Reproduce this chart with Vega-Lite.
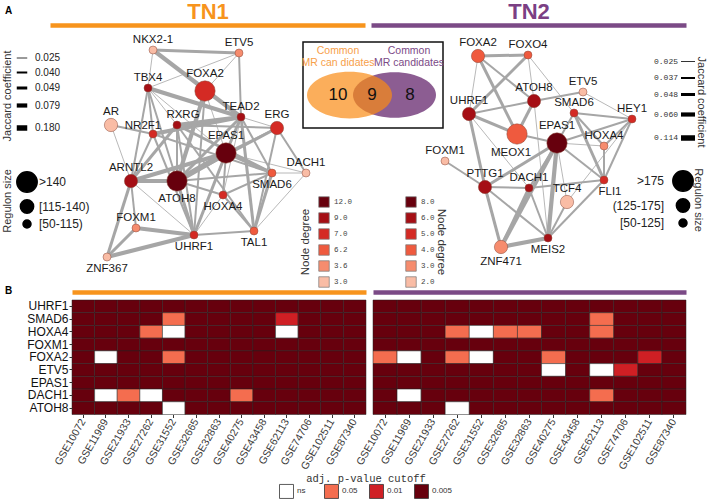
{
"$schema": "https://vega.github.io/schema/vega-lite/v6.json",
"width": 709, "height": 503,
"autosize": {"type": "none"},
"padding": 0,
"background": "white",
"config": {"view": {"stroke": null}, "font": "Liberation Sans", "legend": {"titleFont": "Liberation Sans", "labelFont": "Liberation Sans"}},
"datasets": {
"tn1nodes": [
{"id":"NKX2-1","x":103,"y":20,"reg":"[50-115)","deg":"3.0"},
{"id":"ETV5","x":189,"y":23,"reg":"[50-115)","deg":"3.6"},
{"id":"TBX4","x":98,"y":58,"reg":"[50-115)","deg":"9.0"},
{"id":"FOXA2","x":155,"y":61,"reg":">140","deg":"7.0"},
{"id":"AR","x":61,"y":95,"reg":"[115-140)","deg":"3.0"},
{"id":"NR2F1","x":103,"y":104,"reg":"[50-115)","deg":"7.0"},
{"id":"RXRG","x":127,"y":95,"reg":"[50-115)","deg":"9.0"},
{"id":"TEAD2","x":191,"y":87,"reg":"[50-115)","deg":"9.0"},
{"id":"ERG","x":227,"y":98,"reg":"[115-140)","deg":"7.0"},
{"id":"EPAS1","x":176,"y":123,"reg":">140","deg":"12.0"},
{"id":"DACH1","x":256,"y":143,"reg":"[50-115)","deg":"3.0"},
{"id":"ARNTL2","x":81,"y":151,"reg":"[115-140)","deg":"9.0"},
{"id":"ATOH8","x":127,"y":151,"reg":">140","deg":"12.0"},
{"id":"SMAD6","x":222,"y":143,"reg":"[50-115)","deg":"6.2"},
{"id":"HOXA4","x":173,"y":165,"reg":"[50-115)","deg":"7.0"},
{"id":"FOXM1","x":86,"y":198,"reg":"[50-115)","deg":"3.6"},
{"id":"UHRF1","x":144,"y":205,"reg":"[50-115)","deg":"7.0"},
{"id":"TAL1","x":204,"y":201,"reg":"[50-115)","deg":"6.2"},
{"id":"ZNF367","x":57,"y":227,"reg":"[50-115)","deg":"3.0"}
],
"tn1edges": [
{"s":"NKX2-1","t":"ETV5","j":"0.049"},
{"s":"NKX2-1","t":"TBX4","j":"0.025"},
{"s":"NKX2-1","t":"TEAD2","j":"0.079"},
{"s":"TBX4","t":"ETV5","j":"0.025"},
{"s":"FOXA2","t":"ETV5","j":"0.025"},
{"s":"ETV5","t":"TEAD2","j":"0.040"},
{"s":"TBX4","t":"TEAD2","j":"0.079"},
{"s":"TBX4","t":"NR2F1","j":"0.040"},
{"s":"TBX4","t":"ARNTL2","j":"0.040"},
{"s":"TBX4","t":"RXRG","j":"0.025"},
{"s":"TBX4","t":"EPAS1","j":"0.025"},
{"s":"TBX4","t":"ATOH8","j":"0.040"},
{"s":"AR","t":"NR2F1","j":"0.040"},
{"s":"AR","t":"ARNTL2","j":"0.025"},
{"s":"NR2F1","t":"TEAD2","j":"0.079"},
{"s":"NR2F1","t":"ARNTL2","j":"0.040"},
{"s":"NR2F1","t":"UHRF1","j":"0.040"},
{"s":"NR2F1","t":"SMAD6","j":"0.040"},
{"s":"RXRG","t":"TEAD2","j":"0.079"},
{"s":"RXRG","t":"ERG","j":"0.040"},
{"s":"RXRG","t":"ARNTL2","j":"0.049"},
{"s":"RXRG","t":"ATOH8","j":"0.040"},
{"s":"RXRG","t":"UHRF1","j":"0.040"},
{"s":"RXRG","t":"SMAD6","j":"0.049"},
{"s":"RXRG","t":"TAL1","j":"0.040"},
{"s":"FOXA2","t":"ATOH8","j":"0.079"},
{"s":"FOXA2","t":"EPAS1","j":"0.025"},
{"s":"FOXA2","t":"UHRF1","j":"0.040"},
{"s":"TEAD2","t":"ERG","j":"0.025"},
{"s":"TEAD2","t":"EPAS1","j":"0.049"},
{"s":"TEAD2","t":"HOXA4","j":"0.025"},
{"s":"TEAD2","t":"ATOH8","j":"0.049"},
{"s":"TEAD2","t":"TAL1","j":"0.049"},
{"s":"TEAD2","t":"SMAD6","j":"0.040"},
{"s":"ERG","t":"DACH1","j":"0.040"},
{"s":"ERG","t":"ATOH8","j":"0.049"},
{"s":"ERG","t":"EPAS1","j":"0.040"},
{"s":"ERG","t":"TAL1","j":"0.040"},
{"s":"EPAS1","t":"ARNTL2","j":"0.079"},
{"s":"EPAS1","t":"ATOH8","j":"0.180"},
{"s":"EPAS1","t":"SMAD6","j":"0.049"},
{"s":"EPAS1","t":"HOXA4","j":"0.040"},
{"s":"EPAS1","t":"UHRF1","j":"0.049"},
{"s":"EPAS1","t":"DACH1","j":"0.025"},
{"s":"ARNTL2","t":"ATOH8","j":"0.079"},
{"s":"ARNTL2","t":"FOXM1","j":"0.040"},
{"s":"ARNTL2","t":"ZNF367","j":"0.049"},
{"s":"ARNTL2","t":"UHRF1","j":"0.025"},
{"s":"ATOH8","t":"HOXA4","j":"0.040"},
{"s":"ATOH8","t":"SMAD6","j":"0.040"},
{"s":"ATOH8","t":"UHRF1","j":"0.049"},
{"s":"HOXA4","t":"SMAD6","j":"0.040"},
{"s":"HOXA4","t":"UHRF1","j":"0.025"},
{"s":"HOXA4","t":"TAL1","j":"0.040"},
{"s":"SMAD6","t":"TAL1","j":"0.049"},
{"s":"SMAD6","t":"DACH1","j":"0.025"},
{"s":"DACH1","t":"TAL1","j":"0.025"},
{"s":"FOXM1","t":"UHRF1","j":"0.079"},
{"s":"FOXM1","t":"ZNF367","j":"0.049"},
{"s":"ZNF367","t":"UHRF1","j":"0.079"},
{"s":"UHRF1","t":"TAL1","j":"0.040"}
],
"tn2nodes": [
{"id":"FOXA2","x":107,"y":26,"reg":"(125-175]","deg":"4.0"},
{"id":"FOXO4","x":157,"y":25,"reg":"[50-125]","deg":"4.0"},
{"id":"ATOH8","x":163,"y":71,"reg":"(125-175]","deg":"6.0"},
{"id":"ETV5","x":212,"y":62,"reg":"[50-125]","deg":"2.0"},
{"id":"SMAD6","x":203,"y":83,"reg":"[50-125]","deg":"5.0"},
{"id":"HEY1","x":261,"y":89,"reg":"[50-125]","deg":"5.0"},
{"id":"UHRF1","x":98,"y":84,"reg":"(125-175]","deg":"6.0"},
{"id":"MEOX1","x":146,"y":104,"reg":">175","deg":"4.0"},
{"id":"EPAS1","x":186,"y":113,"reg":">175","deg":"8.0"},
{"id":"HOXA4","x":233,"y":116,"reg":"[50-125]","deg":"3.0"},
{"id":"FOXM1","x":74,"y":131,"reg":"[50-125]","deg":"2.0"},
{"id":"PTTG1","x":114,"y":157,"reg":"(125-175]","deg":"6.0"},
{"id":"DACH1","x":158,"y":158,"reg":"[50-125]","deg":"6.0"},
{"id":"TCF4","x":196,"y":172,"reg":"(125-175]","deg":"2.0"},
{"id":"FLI1","x":233,"y":150,"reg":"[50-125]","deg":"5.0"},
{"id":"MEIS2","x":177,"y":208,"reg":"[50-125]","deg":"6.0"},
{"id":"ZNF471","x":130,"y":217,"reg":"(125-175]","deg":"3.0"}
],
"tn2edges": [
{"s":"FOXA2","t":"FOXO4","j":"0.048"},
{"s":"FOXA2","t":"UHRF1","j":"0.025"},
{"s":"FOXA2","t":"ATOH8","j":"0.037"},
{"s":"FOXA2","t":"MEOX1","j":"0.048"},
{"s":"FOXO4","t":"UHRF1","j":"0.048"},
{"s":"FOXO4","t":"ATOH8","j":"0.025"},
{"s":"FOXO4","t":"SMAD6","j":"0.025"},
{"s":"UHRF1","t":"ATOH8","j":"0.037"},
{"s":"UHRF1","t":"MEOX1","j":"0.048"},
{"s":"UHRF1","t":"PTTG1","j":"0.048"},
{"s":"UHRF1","t":"DACH1","j":"0.025"},
{"s":"ATOH8","t":"ETV5","j":"0.037"},
{"s":"ATOH8","t":"MEOX1","j":"0.048"},
{"s":"ATOH8","t":"MEIS2","j":"0.025"},
{"s":"ETV5","t":"HEY1","j":"0.025"},
{"s":"SMAD6","t":"HEY1","j":"0.037"},
{"s":"SMAD6","t":"EPAS1","j":"0.037"},
{"s":"SMAD6","t":"HOXA4","j":"0.037"},
{"s":"SMAD6","t":"FLI1","j":"0.048"},
{"s":"HEY1","t":"EPAS1","j":"0.037"},
{"s":"HEY1","t":"HOXA4","j":"0.037"},
{"s":"HEY1","t":"FLI1","j":"0.037"},
{"s":"HEY1","t":"TCF4","j":"0.025"},
{"s":"MEOX1","t":"EPAS1","j":"0.037"},
{"s":"EPAS1","t":"PTTG1","j":"0.048"},
{"s":"EPAS1","t":"DACH1","j":"0.037"},
{"s":"EPAS1","t":"ZNF471","j":"0.060"},
{"s":"EPAS1","t":"MEIS2","j":"0.060"},
{"s":"EPAS1","t":"FLI1","j":"0.037"},
{"s":"EPAS1","t":"HOXA4","j":"0.025"},
{"s":"EPAS1","t":"TCF4","j":"0.025"},
{"s":"FOXM1","t":"PTTG1","j":"0.037"},
{"s":"PTTG1","t":"DACH1","j":"0.037"},
{"s":"PTTG1","t":"ZNF471","j":"0.048"},
{"s":"PTTG1","t":"MEIS2","j":"0.037"},
{"s":"DACH1","t":"ZNF471","j":"0.048"},
{"s":"DACH1","t":"MEIS2","j":"0.037"},
{"s":"DACH1","t":"FLI1","j":"0.037"},
{"s":"TCF4","t":"MEIS2","j":"0.037"},
{"s":"FLI1","t":"MEIS2","j":"0.037"},
{"s":"ZNF471","t":"MEIS2","j":"0.060"},
{"s":"HOXA4","t":"FLI1","j":"0.037"}
],
"venn": [
{"part":"TN1 only","n":"10"},
{"part":"both","n":"9"},
{"part":"TN2 only","n":"8"}
],
"heat": [
{"tn":"TN1","gene":"UHRF1","GSE10072":"0.005","GSE11969":"0.005","GSE21933":"0.005","GSE27262":"0.005","GSE31552":"0.005","GSE32665":"0.005","GSE32863":"0.005","GSE40275":"0.005","GSE43458":"0.005","GSE62113":"0.005","GSE74706":"0.005","GSE102511":"0.005","GSE87340":"0.005"},
{"tn":"TN1","gene":"SMAD6","GSE10072":"0.005","GSE11969":"0.005","GSE21933":"0.005","GSE27262":"0.005","GSE31552":"0.05","GSE32665":"0.005","GSE32863":"0.005","GSE40275":"0.005","GSE43458":"0.005","GSE62113":"0.01","GSE74706":"0.005","GSE102511":"0.005","GSE87340":"0.005"},
{"tn":"TN1","gene":"HOXA4","GSE10072":"0.005","GSE11969":"0.005","GSE21933":"0.005","GSE27262":"0.05","GSE31552":"ns","GSE32665":"0.005","GSE32863":"0.005","GSE40275":"0.005","GSE43458":"0.005","GSE62113":"ns","GSE74706":"0.005","GSE102511":"0.005","GSE87340":"0.005"},
{"tn":"TN1","gene":"FOXM1","GSE10072":"0.005","GSE11969":"0.005","GSE21933":"0.005","GSE27262":"0.005","GSE31552":"0.005","GSE32665":"0.005","GSE32863":"0.005","GSE40275":"0.005","GSE43458":"0.005","GSE62113":"0.005","GSE74706":"0.005","GSE102511":"0.005","GSE87340":"0.005"},
{"tn":"TN1","gene":"FOXA2","GSE10072":"0.005","GSE11969":"ns","GSE21933":"0.005","GSE27262":"0.005","GSE31552":"0.05","GSE32665":"0.005","GSE32863":"0.005","GSE40275":"0.005","GSE43458":"0.005","GSE62113":"0.005","GSE74706":"0.005","GSE102511":"0.005","GSE87340":"0.005"},
{"tn":"TN1","gene":"ETV5","GSE10072":"0.005","GSE11969":"0.005","GSE21933":"0.005","GSE27262":"0.005","GSE31552":"0.005","GSE32665":"0.005","GSE32863":"0.005","GSE40275":"0.005","GSE43458":"0.005","GSE62113":"0.005","GSE74706":"0.005","GSE102511":"0.005","GSE87340":"0.005"},
{"tn":"TN1","gene":"EPAS1","GSE10072":"0.005","GSE11969":"0.005","GSE21933":"0.005","GSE27262":"0.005","GSE31552":"0.005","GSE32665":"0.005","GSE32863":"0.005","GSE40275":"0.005","GSE43458":"0.005","GSE62113":"0.005","GSE74706":"0.005","GSE102511":"0.005","GSE87340":"0.005"},
{"tn":"TN1","gene":"DACH1","GSE10072":"0.005","GSE11969":"ns","GSE21933":"0.05","GSE27262":"ns","GSE31552":"0.005","GSE32665":"0.005","GSE32863":"0.005","GSE40275":"0.05","GSE43458":"0.005","GSE62113":"0.005","GSE74706":"0.005","GSE102511":"0.005","GSE87340":"0.005"},
{"tn":"TN1","gene":"ATOH8","GSE10072":"0.005","GSE11969":"0.005","GSE21933":"0.005","GSE27262":"0.005","GSE31552":"ns","GSE32665":"0.005","GSE32863":"0.005","GSE40275":"0.005","GSE43458":"0.005","GSE62113":"0.005","GSE74706":"0.005","GSE102511":"0.005","GSE87340":"0.005"},
{"tn":"TN2","gene":"UHRF1","GSE10072":"0.005","GSE11969":"0.005","GSE21933":"0.005","GSE27262":"0.005","GSE31552":"0.005","GSE32665":"0.005","GSE32863":"0.005","GSE40275":"0.005","GSE43458":"0.005","GSE62113":"0.005","GSE74706":"0.005","GSE102511":"0.005","GSE87340":"0.005"},
{"tn":"TN2","gene":"SMAD6","GSE10072":"0.005","GSE11969":"0.005","GSE21933":"0.005","GSE27262":"0.005","GSE31552":"0.005","GSE32665":"0.005","GSE32863":"0.005","GSE40275":"0.005","GSE43458":"0.005","GSE62113":"0.05","GSE74706":"0.005","GSE102511":"0.005","GSE87340":"0.005"},
{"tn":"TN2","gene":"HOXA4","GSE10072":"0.005","GSE11969":"0.005","GSE21933":"0.005","GSE27262":"0.05","GSE31552":"ns","GSE32665":"0.05","GSE32863":"0.05","GSE40275":"0.005","GSE43458":"0.005","GSE62113":"0.05","GSE74706":"0.005","GSE102511":"0.005","GSE87340":"0.005"},
{"tn":"TN2","gene":"FOXM1","GSE10072":"0.005","GSE11969":"0.005","GSE21933":"0.005","GSE27262":"0.005","GSE31552":"0.005","GSE32665":"0.005","GSE32863":"0.005","GSE40275":"0.005","GSE43458":"0.005","GSE62113":"0.005","GSE74706":"0.005","GSE102511":"0.005","GSE87340":"0.005"},
{"tn":"TN2","gene":"FOXA2","GSE10072":"0.05","GSE11969":"ns","GSE21933":"0.005","GSE27262":"0.05","GSE31552":"ns","GSE32665":"0.005","GSE32863":"0.005","GSE40275":"0.05","GSE43458":"0.005","GSE62113":"0.005","GSE74706":"0.005","GSE102511":"0.01","GSE87340":"0.005"},
{"tn":"TN2","gene":"ETV5","GSE10072":"0.005","GSE11969":"0.005","GSE21933":"0.005","GSE27262":"0.005","GSE31552":"0.005","GSE32665":"0.005","GSE32863":"0.005","GSE40275":"ns","GSE43458":"0.005","GSE62113":"ns","GSE74706":"0.01","GSE102511":"0.005","GSE87340":"0.005"},
{"tn":"TN2","gene":"EPAS1","GSE10072":"0.005","GSE11969":"0.005","GSE21933":"0.005","GSE27262":"0.005","GSE31552":"0.005","GSE32665":"0.005","GSE32863":"0.005","GSE40275":"0.005","GSE43458":"0.005","GSE62113":"0.005","GSE74706":"0.005","GSE102511":"0.005","GSE87340":"0.005"},
{"tn":"TN2","gene":"DACH1","GSE10072":"0.005","GSE11969":"ns","GSE21933":"0.005","GSE27262":"0.005","GSE31552":"0.005","GSE32665":"0.005","GSE32863":"0.005","GSE40275":"0.005","GSE43458":"0.005","GSE62113":"0.05","GSE74706":"0.005","GSE102511":"0.005","GSE87340":"0.005"},
{"tn":"TN2","gene":"ATOH8","GSE10072":"0.005","GSE11969":"0.005","GSE21933":"0.005","GSE27262":"ns","GSE31552":"0.005","GSE32665":"0.005","GSE32863":"0.005","GSE40275":"0.005","GSE43458":"0.005","GSE62113":"0.005","GSE74706":"0.005","GSE102511":"0.005","GSE87340":"0.005"}
]
},
"layer": [
{
"layer": [
{"data": {"name": "tn1edges"},
 "transform": [
  {"lookup": "s", "from": {"data": {"values": [
{"id":"NKX2-1","x":103,"y":20},{"id":"ETV5","x":189,"y":23},{"id":"TBX4","x":98,"y":58},{"id":"FOXA2","x":155,"y":61},{"id":"AR","x":61,"y":95},{"id":"NR2F1","x":103,"y":104},{"id":"RXRG","x":127,"y":95},{"id":"TEAD2","x":191,"y":87},{"id":"ERG","x":227,"y":98},{"id":"EPAS1","x":176,"y":123},{"id":"DACH1","x":256,"y":143},{"id":"ARNTL2","x":81,"y":151},{"id":"ATOH8","x":127,"y":151},{"id":"SMAD6","x":222,"y":143},{"id":"HOXA4","x":173,"y":165},{"id":"FOXM1","x":86,"y":198},{"id":"UHRF1","x":144,"y":205},{"id":"TAL1","x":204,"y":201},{"id":"ZNF367","x":57,"y":227}
  ]}, "key": "id", "fields": ["x", "y"]}, "as": ["sx", "sy"]},
  {"lookup": "t", "from": {"data": {"values": [
{"id":"NKX2-1","x":103,"y":20},{"id":"ETV5","x":189,"y":23},{"id":"TBX4","x":98,"y":58},{"id":"FOXA2","x":155,"y":61},{"id":"AR","x":61,"y":95},{"id":"NR2F1","x":103,"y":104},{"id":"RXRG","x":127,"y":95},{"id":"TEAD2","x":191,"y":87},{"id":"ERG","x":227,"y":98},{"id":"EPAS1","x":176,"y":123},{"id":"DACH1","x":256,"y":143},{"id":"ARNTL2","x":81,"y":151},{"id":"ATOH8","x":127,"y":151},{"id":"SMAD6","x":222,"y":143},{"id":"HOXA4","x":173,"y":165},{"id":"FOXM1","x":86,"y":198},{"id":"UHRF1","x":144,"y":205},{"id":"TAL1","x":204,"y":201},{"id":"ZNF367","x":57,"y":227}
  ]}, "key": "id", "fields": ["x", "y"]}, "as": ["tx", "ty"]}
 ],
 "mark": {"type": "rule", "color": "#a6a6a6"},
 "encoding": {
  "x": {"field": "sx", "type": "quantitative", "scale": {"domain": [0, 315], "range": [50, 365], "nice": false, "zero": false},
        "axis": {"orient": "top", "offset": -25, "domain": true, "domainColor": "#f7941d", "domainWidth": 4.5, "ticks": false, "labels": false, "grid": false, "title": "TN1", "titleFontSize": 22, "titleFontWeight": "bold", "titleColor": "#f7941d", "titlePadding": 2}},
  "y": {"field": "sy", "type": "quantitative", "scale": {"domain": [0, 250], "range": [30, 280], "nice": false, "zero": false},
        "axis": {"orient": "left", "domain": false, "ticks": false, "labels": false, "grid": false, "title": "A", "titleAngle": 0, "titleX": 8, "titleY": 10, "titleAlign": "center", "titleBaseline": "middle", "titleFontSize": 10, "titleFontWeight": "bold", "titleColor": "#000"}},
  "x2": {"field": "tx"},
  "y2": {"field": "ty"},
  "strokeWidth": {"field": "j", "type": "ordinal", "scale": {"type": "ordinal", "domain": ["0.025", "0.040", "0.049", "0.079", "0.180"], "range": [0.8, 2, 3, 4.2, 5.5]},
    "legend": {"orient": "none", "legendX": 2, "legendY": 52, "title": "Jaccard coefficient", "titleOrient": "left", "titleFontSize": 11, "titleFontWeight": "normal", "titleColor": "#333", "titleAnchor": "middle", "titleAlign": "center", "titleBaseline": "middle", "titlePadding": -6, "symbolType": "stroke", "symbolSize": 110, "symbolStrokeColor": "#000", "labelFontSize": 10, "labelColor": "#222", "labelOffset": 5, "rowPadding": 3,
      "encode": {"title": {"update": {"angle": {"value": 270}}}}}}
 }},
{"data": {"name": "tn1nodes"},
 "mark": {"type": "circle", "opacity": 1, "stroke": "#8b4a3c", "strokeWidth": 0.5},
 "encoding": {
  "x": {"field": "x", "type": "quantitative"},
  "y": {"field": "y", "type": "quantitative"},
  "size": {"field": "reg", "type": "ordinal", "scale": {"type": "ordinal", "domain": [">140", "[115-140)", "[50-115)"], "range": [415, 177, 64]},
    "legend": {"orient": "none", "legendX": 2, "legendY": 171, "title": "Regulon size", "titleOrient": "left", "titleFontSize": 11, "titleFontWeight": "normal", "titleColor": "#333", "titleAnchor": "middle", "titleAlign": "center", "titleBaseline": "middle", "titlePadding": -4, "symbolType": "circle", "symbolFillColor": "#000", "symbolStrokeColor": "#000", "symbolOpacity": 1, "labelFontSize": 12, "labelColor": "#222", "labelOffset": 1, "rowPadding": 0,
      "encode": {"title": {"update": {"angle": {"value": 270}}}}}},
  "color": {"field": "deg", "type": "ordinal", "scale": {"domain": ["12.0", "9.0", "7.0", "6.2", "3.6", "3.0"], "range": ["#67000d", "#a50f15", "#d42a24", "#ef5a3e", "#f68c6e", "#f9bca5"]},
    "legend": {"orient": "none", "legendX": 300, "legendY": 196, "title": "Node degree", "titleOrient": "left", "titleFontSize": 11.5, "titleFontWeight": "normal", "titleColor": "#333", "titleAnchor": "middle", "titleAlign": "center", "titleBaseline": "middle", "titlePadding": 0, "symbolType": "square", "symbolSize": 110, "symbolStrokeColor": "#777", "symbolStrokeWidth": 0.7, "symbolOpacity": 1, "labelFont": "Liberation Mono", "labelFontSize": 7.5, "labelColor": "#444", "labelOffset": 4, "rowPadding": 2,
      "encode": {"title": {"update": {"angle": {"value": 270}}}}}}
 }},
{"data": {"name": "tn1nodes"},
 "transform": [{"filter": {"field": "id", "oneOf": ["NKX2-1", "ETV5", "TBX4", "TEAD2", "DACH1", "FOXM1"]}}],
 "mark": {"type": "text", "baseline": "bottom", "dy": -5, "fontSize": 11.5, "color": "#1a1a1a"},
 "encoding": {"x": {"field": "x", "type": "quantitative"}, "y": {"field": "y", "type": "quantitative"}, "text": {"field": "id"}}},
{"data": {"name": "tn1nodes"},
 "transform": [{"filter": {"field": "id", "oneOf": ["RXRG"]}}],
 "mark": {"type": "text", "baseline": "bottom", "dy": -5, "dx": 6, "fontSize": 11.5, "color": "#1a1a1a"},
 "encoding": {"x": {"field": "x", "type": "quantitative"}, "y": {"field": "y", "type": "quantitative"}, "text": {"field": "id"}}},
{"data": {"name": "tn1nodes"},
 "transform": [{"filter": {"field": "id", "oneOf": ["NR2F1"]}}],
 "mark": {"type": "text", "baseline": "bottom", "dy": -3, "dx": -10, "fontSize": 11.5, "color": "#1a1a1a"},
 "encoding": {"x": {"field": "x", "type": "quantitative"}, "y": {"field": "y", "type": "quantitative"}, "text": {"field": "id"}}},
{"data": {"name": "tn1nodes"},
 "transform": [{"filter": {"field": "id", "oneOf": ["AR", "ERG", "ARNTL2"]}}],
 "mark": {"type": "text", "baseline": "bottom", "dy": -8.5, "fontSize": 11.5, "color": "#1a1a1a"},
 "encoding": {"x": {"field": "x", "type": "quantitative"}, "y": {"field": "y", "type": "quantitative"}, "text": {"field": "id"}}},
{"data": {"name": "tn1nodes"},
 "transform": [{"filter": {"field": "id", "oneOf": ["FOXA2", "EPAS1"]}}],
 "mark": {"type": "text", "baseline": "bottom", "dy": -12, "fontSize": 11.5, "color": "#1a1a1a"},
 "encoding": {"x": {"field": "x", "type": "quantitative"}, "y": {"field": "y", "type": "quantitative"}, "text": {"field": "id"}}},
{"data": {"name": "tn1nodes"},
 "transform": [{"filter": {"field": "id", "oneOf": ["SMAD6", "HOXA4", "UHRF1", "TAL1", "ZNF367"]}}],
 "mark": {"type": "text", "baseline": "top", "dy": 5.5, "fontSize": 11.5, "color": "#1a1a1a"},
 "encoding": {"x": {"field": "x", "type": "quantitative"}, "y": {"field": "y", "type": "quantitative"}, "text": {"field": "id"}}},
{"data": {"name": "tn1nodes"},
 "transform": [{"filter": {"field": "id", "oneOf": ["ATOH8"]}}],
 "mark": {"type": "text", "baseline": "top", "dy": 12, "fontSize": 11.5, "color": "#1a1a1a"},
 "encoding": {"x": {"field": "x", "type": "quantitative"}, "y": {"field": "y", "type": "quantitative"}, "text": {"field": "id"}}}
]
},
{
"layer": [
{"data": {"name": "tn2edges"},
 "transform": [
  {"lookup": "s", "from": {"data": {"values": [
{"id":"FOXA2","x":107,"y":26},{"id":"FOXO4","x":157,"y":25},{"id":"ATOH8","x":163,"y":71},{"id":"ETV5","x":212,"y":62},{"id":"SMAD6","x":203,"y":83},{"id":"HEY1","x":261,"y":89},{"id":"UHRF1","x":98,"y":84},{"id":"MEOX1","x":146,"y":104},{"id":"EPAS1","x":186,"y":113},{"id":"HOXA4","x":233,"y":116},{"id":"FOXM1","x":74,"y":131},{"id":"PTTG1","x":114,"y":157},{"id":"DACH1","x":158,"y":158},{"id":"TCF4","x":196,"y":172},{"id":"FLI1","x":233,"y":150},{"id":"MEIS2","x":177,"y":208},{"id":"ZNF471","x":130,"y":217}
  ]}, "key": "id", "fields": ["x", "y"]}, "as": ["sx", "sy"]},
  {"lookup": "t", "from": {"data": {"values": [
{"id":"FOXA2","x":107,"y":26},{"id":"FOXO4","x":157,"y":25},{"id":"ATOH8","x":163,"y":71},{"id":"ETV5","x":212,"y":62},{"id":"SMAD6","x":203,"y":83},{"id":"HEY1","x":261,"y":89},{"id":"UHRF1","x":98,"y":84},{"id":"MEOX1","x":146,"y":104},{"id":"EPAS1","x":186,"y":113},{"id":"HOXA4","x":233,"y":116},{"id":"FOXM1","x":74,"y":131},{"id":"PTTG1","x":114,"y":157},{"id":"DACH1","x":158,"y":158},{"id":"TCF4","x":196,"y":172},{"id":"FLI1","x":233,"y":150},{"id":"MEIS2","x":177,"y":208},{"id":"ZNF471","x":130,"y":217}
  ]}, "key": "id", "fields": ["x", "y"]}, "as": ["tx", "ty"]}
 ],
 "mark": {"type": "rule", "color": "#a6a6a6"},
 "encoding": {
  "x": {"field": "sx", "type": "quantitative", "scale": {"domain": [0, 315], "range": [371, 686], "nice": false, "zero": false},
        "axis": {"orient": "top", "offset": -25, "domain": true, "domainColor": "#7b4a86", "domainWidth": 4.5, "ticks": false, "labels": false, "grid": false, "title": "TN2", "titleFontSize": 22, "titleFontWeight": "bold", "titleColor": "#7b3f84", "titlePadding": 2}},
  "y": {"field": "sy", "type": "quantitative", "scale": {"domain": [0, 250], "range": [30, 280], "nice": false, "zero": false}, "axis": null},
  "x2": {"field": "tx"},
  "y2": {"field": "ty"},
  "strokeWidth": {"field": "j", "type": "ordinal", "scale": {"type": "ordinal", "domain": ["0.025", "0.037", "0.048", "0.060", "0.114"], "range": [0.8, 2, 3, 4.2, 5.5]},
    "legend": {"orient": "none", "legendX": 678, "legendY": 54, "title": "Jaccard coefficient", "titleOrient": "right", "titleFontSize": 11, "titleFontWeight": "normal", "titleColor": "#333", "titleAnchor": "middle", "titleAlign": "center", "titleBaseline": "middle", "titlePadding": -5, "symbolType": "stroke", "symbolSize": 196, "symbolStrokeColor": "#000", "labelFont": "Liberation Mono", "labelFontSize": 8, "labelColor": "#333", "labelAlign": "right", "labelOffset": -20, "rowPadding": 4,
      "encode": {"title": {"update": {"angle": {"value": 90}}}}}}
 }},
{"data": {"name": "tn2nodes"},
 "mark": {"type": "circle", "opacity": 1, "stroke": "#8b4a3c", "strokeWidth": 0.5},
 "encoding": {
  "x": {"field": "x", "type": "quantitative"},
  "y": {"field": "y", "type": "quantitative", "axis": null},
  "size": {"field": "reg", "type": "ordinal", "scale": {"type": "ordinal", "domain": [">175", "(125-175]", "[50-125]"], "range": [415, 177, 64]},
    "legend": {"orient": "none", "legendX": 672, "legendY": 170, "title": "Regulon size", "titleOrient": "right", "titleFontSize": 11, "titleFontWeight": "normal", "titleColor": "#333", "titleAnchor": "middle", "titleAlign": "center", "titleBaseline": "middle", "titlePadding": 2, "symbolType": "circle", "symbolFillColor": "#000", "symbolStrokeColor": "#000", "symbolOpacity": 1, "labelFontSize": 12, "labelColor": "#222", "labelAlign": "right", "labelOffset": -30, "rowPadding": 0,
      "encode": {"title": {"update": {"angle": {"value": 90}}}}}},
  "color": {"field": "deg", "type": "ordinal", "scale": {"domain": ["8.0", "6.0", "5.0", "4.0", "3.0", "2.0"], "range": ["#67000d", "#a50f15", "#d42a24", "#ef5a3e", "#f68c6e", "#f9bca5"]},
    "legend": {"orient": "none", "legendX": 405, "legendY": 196, "title": "Node degree", "titleOrient": "right", "titleFontSize": 11.5, "titleFontWeight": "normal", "titleColor": "#333", "titleAnchor": "middle", "titleAlign": "center", "titleBaseline": "middle", "titlePadding": 6, "symbolType": "square", "symbolSize": 110, "symbolStrokeColor": "#777", "symbolStrokeWidth": 0.7, "symbolOpacity": 1, "labelFont": "Liberation Mono", "labelFontSize": 7.5, "labelColor": "#444", "labelOffset": 4, "rowPadding": 2,
      "encode": {"title": {"update": {"angle": {"value": 90}}}}}}
 }},
{"data": {"name": "tn2nodes"},
 "transform": [{"filter": {"field": "id", "oneOf": ["FOXO4", "ETV5", "SMAD6", "HEY1", "HOXA4", "FOXM1", "DACH1"]}}],
 "mark": {"type": "text", "baseline": "bottom", "dy": -5, "fontSize": 11.5, "color": "#1a1a1a"},
 "encoding": {"x": {"field": "x", "type": "quantitative"}, "y": {"field": "y", "type": "quantitative", "axis": null}, "text": {"field": "id"}}},
{"data": {"name": "tn2nodes"},
 "transform": [{"filter": {"field": "id", "oneOf": ["FOXA2", "ATOH8", "UHRF1", "PTTG1", "TCF4"]}}],
 "mark": {"type": "text", "baseline": "bottom", "dy": -8.5, "fontSize": 11.5, "color": "#1a1a1a"},
 "encoding": {"x": {"field": "x", "type": "quantitative"}, "y": {"field": "y", "type": "quantitative", "axis": null}, "text": {"field": "id"}}},
{"data": {"name": "tn2nodes"},
 "transform": [{"filter": {"field": "id", "oneOf": ["EPAS1"]}}],
 "mark": {"type": "text", "baseline": "bottom", "dy": -12, "fontSize": 11.5, "color": "#1a1a1a"},
 "encoding": {"x": {"field": "x", "type": "quantitative"}, "y": {"field": "y", "type": "quantitative", "axis": null}, "text": {"field": "id"}}},
{"data": {"name": "tn2nodes"},
 "transform": [{"filter": {"field": "id", "oneOf": ["FLI1"]}}],
 "mark": {"type": "text", "baseline": "top", "dy": 6, "dx": 6, "fontSize": 11.5, "color": "#1a1a1a"},
 "encoding": {"x": {"field": "x", "type": "quantitative"}, "y": {"field": "y", "type": "quantitative", "axis": null}, "text": {"field": "id"}}},
{"data": {"name": "tn2nodes"},
 "transform": [{"filter": {"field": "id", "oneOf": ["MEIS2"]}}],
 "mark": {"type": "text", "baseline": "top", "dy": 5.5, "fontSize": 11.5, "color": "#1a1a1a"},
 "encoding": {"x": {"field": "x", "type": "quantitative"}, "y": {"field": "y", "type": "quantitative", "axis": null}, "text": {"field": "id"}}},
{"data": {"name": "tn2nodes"},
 "transform": [{"filter": {"field": "id", "oneOf": ["ZNF471"]}}],
 "mark": {"type": "text", "baseline": "top", "dy": 9, "fontSize": 11.5, "color": "#1a1a1a"},
 "encoding": {"x": {"field": "x", "type": "quantitative"}, "y": {"field": "y", "type": "quantitative", "axis": null}, "text": {"field": "id"}}},
{"data": {"name": "tn2nodes"},
 "transform": [{"filter": {"field": "id", "oneOf": ["MEOX1"]}}],
 "mark": {"type": "text", "baseline": "top", "dy": 13, "dx": -6, "fontSize": 11.5, "color": "#1a1a1a"},
 "encoding": {"x": {"field": "x", "type": "quantitative"}, "y": {"field": "y", "type": "quantitative", "axis": null}, "text": {"field": "id"}}}
]
},
{
"layer": [
{"data": {"values": [{}]},
 "mark": {"type": "rect", "filled": false, "stroke": "#111", "strokeWidth": 1.5},
 "encoding": {
  "x": {"datum": 0, "type": "quantitative", "scale": {"domain": [0, 140], "range": [303, 443], "nice": false, "zero": false}, "axis": null},
  "x2": {"datum": 140},
  "y": {"datum": 0, "type": "quantitative", "scale": {"domain": [0, 86], "range": [42, 128], "nice": false, "zero": false}, "axis": null},
  "y2": {"datum": 86}
 }},
{"data": {"values": [{}]},
 "mark": {"type": "point", "filled": true, "shape": "M-1,0C-1,-0.3038,-0.5523,-0.55,0,-0.55C0.5523,-0.55,1,-0.3038,1,0C1,0.3038,0.5523,0.55,0,0.55C-0.5523,0.55,-1,0.3038,-1,0Z", "size": 6889, "color": "#8c5d92", "opacity": 1, "strokeWidth": 0},
 "encoding": {"x": {"datum": 91.5, "type": "quantitative", "axis": null}, "y": {"datum": 53, "type": "quantitative", "axis": null}}},
{"data": {"values": [{}]},
 "mark": {"type": "point", "filled": true, "shape": "M-1,0C-1,-0.3038,-0.5523,-0.55,0,-0.55C0.5523,-0.55,1,-0.3038,1,0C1,0.3038,0.5523,0.55,0,0.55C-0.5523,0.55,-1,0.3038,-1,0Z", "size": 7225, "color": "#f98b16", "opacity": 0.7, "strokeWidth": 0},
 "encoding": {"x": {"datum": 46.5, "type": "quantitative", "axis": null}, "y": {"datum": 53, "type": "quantitative", "axis": null}}},
{"data": {"values": [{}]},
 "mark": {"type": "text", "text": ["Common", "MR can didates"], "fontSize": 10.5, "color": "#f7a04a", "lineHeight": 12, "baseline": "middle"},
 "encoding": {"x": {"datum": 35, "type": "quantitative", "axis": null}, "y": {"datum": 9, "type": "quantitative", "axis": null}}},
{"data": {"values": [{}]},
 "mark": {"type": "text", "text": ["Common", "MR candidates"], "fontSize": 10.5, "color": "#7b4a86", "lineHeight": 12, "baseline": "middle"},
 "encoding": {"x": {"datum": 106, "type": "quantitative", "axis": null}, "y": {"datum": 9, "type": "quantitative", "axis": null}}},
{"data": {"name": "venn"},
 "transform": [{"filter": "datum.part === 'TN1 only'"}],
 "mark": {"type": "text", "fontSize": 17, "color": "#111", "baseline": "middle"},
 "encoding": {"x": {"datum": 35, "type": "quantitative", "axis": null}, "y": {"datum": 53, "type": "quantitative", "axis": null}, "text": {"field": "n"}}},
{"data": {"name": "venn"},
 "transform": [{"filter": "datum.part === 'both'"}],
 "mark": {"type": "text", "fontSize": 17, "color": "#111", "baseline": "middle"},
 "encoding": {"x": {"datum": 69, "type": "quantitative", "axis": null}, "y": {"datum": 53, "type": "quantitative", "axis": null}, "text": {"field": "n"}}},
{"data": {"name": "venn"},
 "transform": [{"filter": "datum.part === 'TN2 only'"}],
 "mark": {"type": "text", "fontSize": 17, "color": "#111", "baseline": "middle"},
 "encoding": {"x": {"datum": 107, "type": "quantitative", "axis": null}, "y": {"datum": 53, "type": "quantitative", "axis": null}, "text": {"field": "n"}}}
]
},
{
"data": {"name": "heat"},
"transform": [
 {"filter": "datum.tn === 'TN1'"},
 {"fold": ["GSE10072","GSE11969","GSE21933","GSE27262","GSE31552","GSE32665","GSE32863","GSE40275","GSE43458","GSE62113","GSE74706","GSE102511","GSE87340"], "as": ["gse", "p"]}
],
"layer": [
 {"mark": {"type": "rect", "stroke": "#222", "strokeWidth": 0.5},
  "encoding": {
   "x": {"field": "gse", "type": "nominal", "scale": {"domain": ["GSE10072","GSE11969","GSE21933","GSE27262","GSE31552","GSE32665","GSE32863","GSE40275","GSE43458","GSE62113","GSE74706","GSE102511","GSE87340"], "range": [72, 366], "paddingInner": 0, "paddingOuter": 0},
         "axis": {"orient": "bottom", "offset": -88.5, "title": null, "domain": false, "tickSize": 3, "tickColor": "#333", "labelAngle": -60, "labelFontSize": 10.5, "labelColor": "#3a3a3a", "labelPadding": 2}},
   "y": {"field": "gene", "type": "nominal", "scale": {"domain": ["UHRF1","SMAD6","HOXA4","FOXM1","FOXA2","ETV5","EPAS1","DACH1","ATOH8"], "range": [300, 414.5], "paddingInner": 0, "paddingOuter": 0},
         "axis": {"orient": "left", "offset": -72, "domain": false, "tickSize": 3, "tickColor": "#333", "labelFontSize": 12, "labelColor": "#111", "labelPadding": 1, "title": "B", "titleAngle": 0, "titleX": -64, "titleY": 290, "titleAlign": "center", "titleBaseline": "middle", "titleFontSize": 10, "titleFontWeight": "bold", "titleColor": "#000"}},
   "color": {"field": "p", "type": "ordinal", "scale": {"domain": ["ns", "0.05", "0.01", "0.005"], "range": ["#ffffff", "#f46d4f", "#cf1f24", "#67000d"]},
     "legend": {"orient": "none", "legendX": 279, "legendY": 474, "direction": "horizontal", "title": "adj. p-value cutoff", "titleFont": "Liberation Mono", "titleFontSize": 10.5, "titleFontWeight": "normal", "titleColor": "#333", "titleAnchor": "middle", "titlePadding": -1, "symbolType": "square", "symbolSize": 196, "symbolStrokeColor": "#333", "symbolStrokeWidth": 0.8, "symbolOpacity": 1, "labelFontSize": 8, "labelColor": "#333", "labelOffset": 3, "columnPadding": 4, "gridAlign": "all"}}
  }},
 {"mark": {"type": "rect", "opacity": 0},
  "encoding": {
   "x": {"field": "gse", "type": "nominal", "axis": {"orient": "top", "offset": -292, "title": null, "domain": true, "domainColor": "#f7941d", "domainWidth": 4.5, "ticks": false, "labels": false, "grid": false}},
   "y": {"field": "gene", "type": "nominal"}
  }}
],
"resolve": {"axis": {"x": "independent"}}
},
{
"data": {"name": "heat"},
"transform": [
 {"filter": "datum.tn === 'TN2'"},
 {"fold": ["GSE10072","GSE11969","GSE21933","GSE27262","GSE31552","GSE32665","GSE32863","GSE40275","GSE43458","GSE62113","GSE74706","GSE102511","GSE87340"], "as": ["gse", "p"]}
],
"layer": [
 {"mark": {"type": "rect", "stroke": "#222", "strokeWidth": 0.5},
  "encoding": {
   "x": {"field": "gse", "type": "nominal", "scale": {"domain": ["GSE10072","GSE11969","GSE21933","GSE27262","GSE31552","GSE32665","GSE32863","GSE40275","GSE43458","GSE62113","GSE74706","GSE102511","GSE87340"], "range": [373, 686], "paddingInner": 0, "paddingOuter": 0},
         "axis": {"orient": "bottom", "offset": -88.5, "title": null, "domain": false, "tickSize": 3, "tickColor": "#333", "labelAngle": -60, "labelFontSize": 10.5, "labelColor": "#3a3a3a", "labelPadding": 2}},
   "y": {"field": "gene", "type": "nominal", "scale": {"domain": ["UHRF1","SMAD6","HOXA4","FOXM1","FOXA2","ETV5","EPAS1","DACH1","ATOH8"], "range": [300, 414.5], "paddingInner": 0, "paddingOuter": 0}, "axis": null},
   "color": {"field": "p", "type": "ordinal", "scale": {"domain": ["ns", "0.05", "0.01", "0.005"], "range": ["#ffffff", "#f46d4f", "#cf1f24", "#67000d"]}, "legend": null}
  }},
 {"mark": {"type": "rect", "opacity": 0},
  "encoding": {
   "x": {"field": "gse", "type": "nominal", "axis": {"orient": "top", "offset": -292, "title": null, "domain": true, "domainColor": "#7b4a86", "domainWidth": 4.5, "ticks": false, "labels": false, "grid": false}},
   "y": {"field": "gene", "type": "nominal", "axis": null}
  }}
],
"resolve": {"axis": {"x": "independent"}}
}
],
"resolve": {
 "scale": {"x": "independent", "y": "independent", "color": "independent", "size": "independent", "strokeWidth": "independent"},
 "axis": {"x": "independent", "y": "independent"},
 "legend": {"color": "independent", "size": "independent", "strokeWidth": "independent"}
}
}
